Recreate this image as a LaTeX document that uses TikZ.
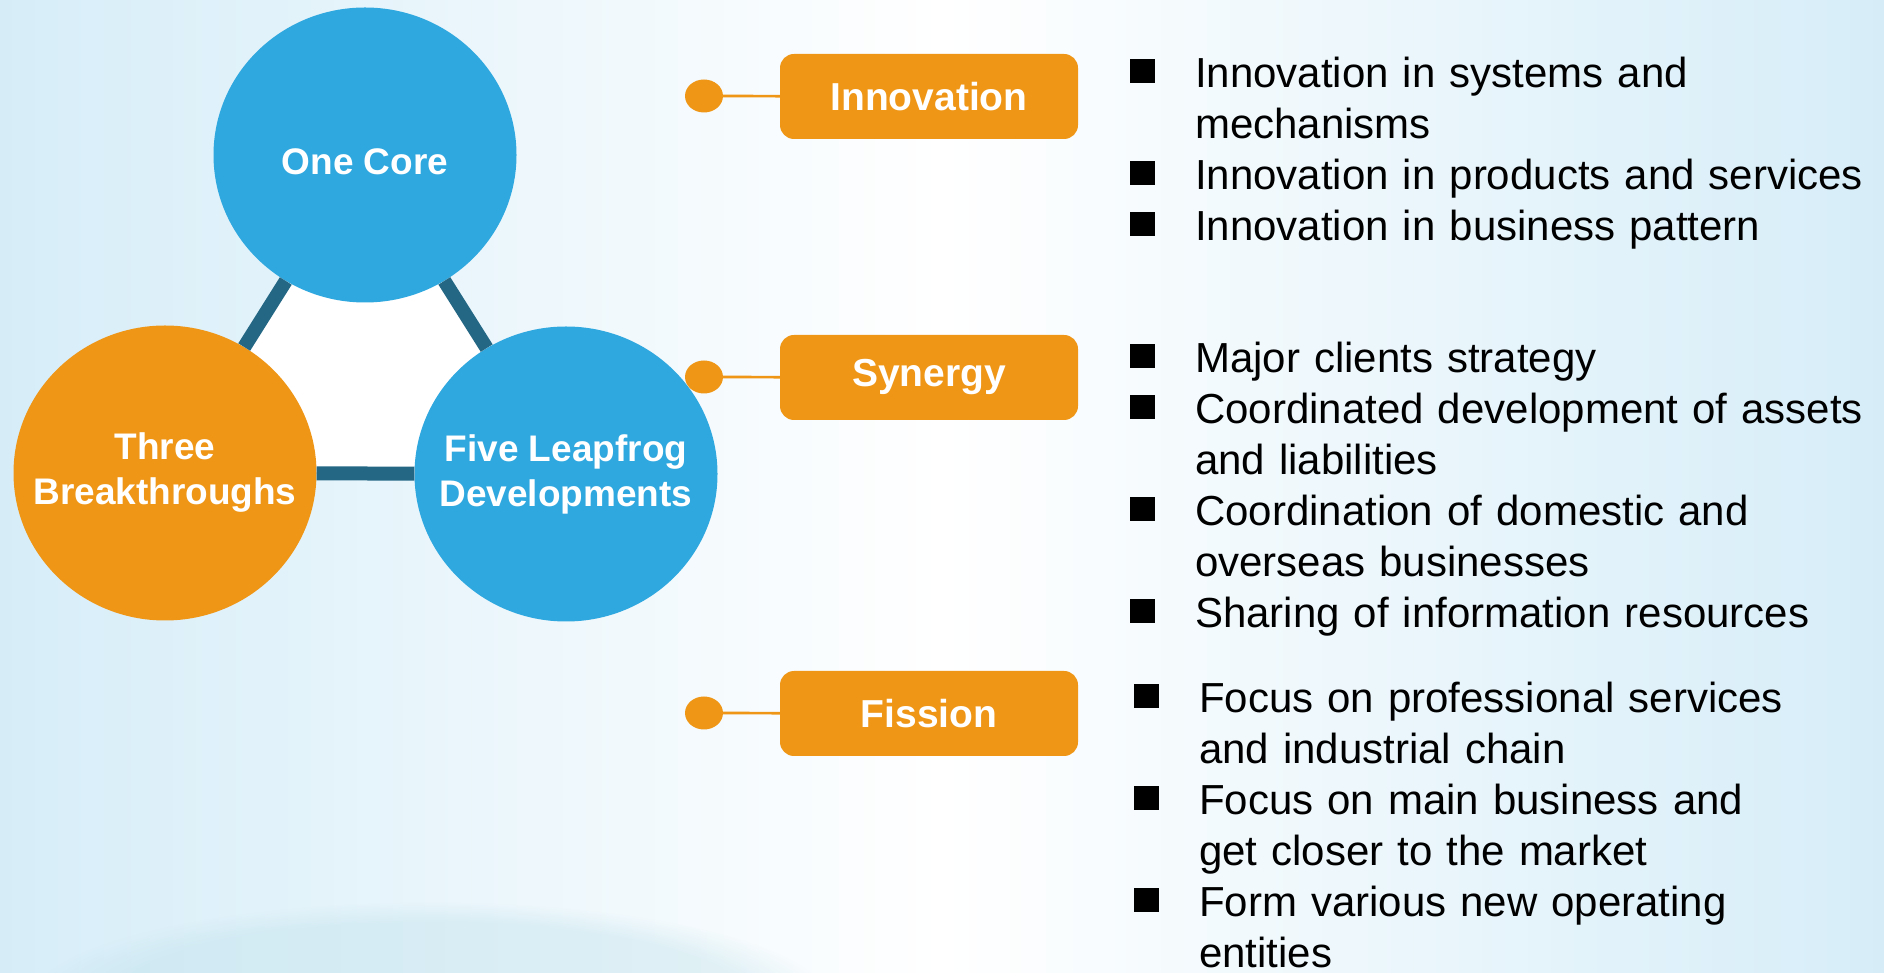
\documentclass[tikz,border=0pt]{standalone}
\usepackage{fontspec}
\setmainfont{Liberation Sans}
\usetikzlibrary{shapes.geometric,fadings}
\definecolor{coreblue}{HTML}{2FA7DF}
\definecolor{mainorange}{HTML}{EF9617}
\definecolor{linkteal}{HTML}{236784}
\definecolor{skyedge}{HTML}{D6EDF8}
\definecolor{glowteal}{HTML}{B9DEE8}
\newcommand{\bitem}[1]{\noindent\hangindent=65pt\hangafter=1\makebox[65pt][l]{\rule[4.5pt]{25pt}{24pt}}#1\par}

\begin{document}
\begin{tikzpicture}[x=1pt,y=1pt,
  bubble/.style={ellipse,minimum width=303pt,minimum height=295pt,inner sep=0pt},
  bubbletext/.style={font=\fontsize{37}{45}\selectfont\bfseries,text=white,align=center},
  tag/.style={fill=mainorange,rounded corners=14pt,minimum width=298pt,minimum height=85pt,inner sep=0pt,text=white,font=\fontsize{39}{47}\selectfont\bfseries},
  knob/.style={ellipse,fill=mainorange,minimum width=38pt,minimum height=33pt,inner sep=0pt},
  link/.style={draw=linkteal,line width=14pt},
  itemlist/.style={anchor=base west,inner sep=0pt,text width=740pt,align=left,font=\fontsize{42}{51}\selectfont}]
\useasboundingbox (0,0) rectangle (1884,972);
% background
\shade[left color=skyedge,right color=skyedge,middle color=white] (0,0) rectangle (1884,972);
\fill[glowteal,path fading=circle with fuzzy edge 20 percent,opacity=0.35] (430,-30) ellipse (400 and 100);
% centres of the three bubbles
\coordinate (pcore) at (365,817);
\coordinate (pthree) at (165,499);
\coordinate (pfive) at (566,498);
\fill[white] (pcore) -- (pthree) -- (pfive) -- cycle;
\node[bubble,fill=coreblue,label={[bubbletext,yshift=-7pt]center:One Core}] (core) at (pcore) {};
\node[bubble,fill=mainorange,label={[bubbletext]center:Three\\Breakthroughs}] (three) at (pthree) {};
\node[bubble,fill=coreblue,label={[bubbletext]center:Five Leapfrog\\Developments}] (five) at (pfive) {};
\draw[link] (core) -- (three);
\draw[link] (core) -- (five);
\draw[link] (three) -- (five);
% three tags with knobs
\node[knob] (k1) at (704,876) {};
\node[knob] (k2) at (704,595) {};
\node[knob] (k3) at (704,259) {};
\node[tag] (innov) at (929,875.5) {Innovation};
\node[tag] (syn) at (929,594.5) {Synergy};
\node[tag] (fis) at (929,258.5) {Fission};
\draw[mainorange,line width=2.7pt] (k1) -- (innov);
\draw[mainorange,line width=2.7pt] (k2) -- (syn);
\draw[mainorange,line width=2.7pt] (k3) -- (fis);
% bullet lists
\node[itemlist] (innovlist) at (1130,884) {%
  \bitem{Innovation in systems and\newline mechanisms}
  \bitem{Innovation in products and services}
  \bitem{Innovation in business pattern}};
\node[itemlist] (synlist) at (1130,599) {%
  \bitem{Major clients strategy}
  \bitem{Coordinated development of assets\newline and liabilities}
  \bitem{Coordination of domestic and\newline overseas businesses}
  \bitem{Sharing of information resources}};
\node[itemlist] (fislist) at (1134,259) {%
  \bitem{Focus on professional services\newline and industrial chain}
  \bitem{Focus on main business and\newline get closer to the market}
  \bitem{Form various new operating\newline entities}};
\end{tikzpicture}
\end{document}
